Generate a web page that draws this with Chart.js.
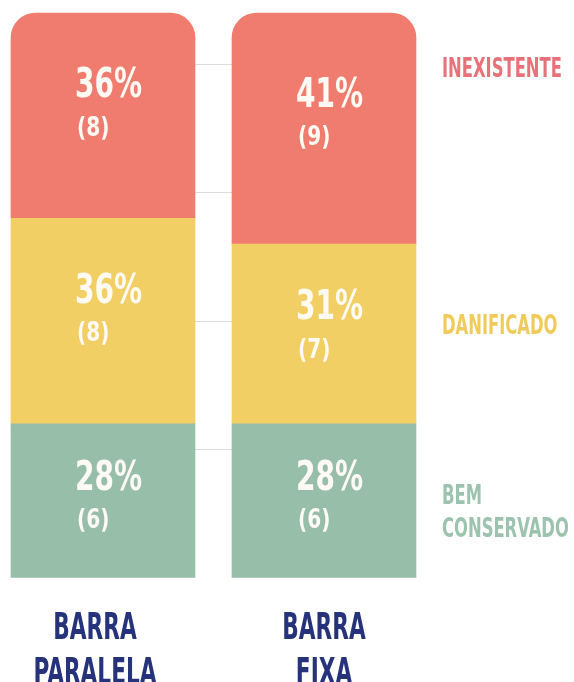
<!DOCTYPE html>
<html>
<head>
<meta charset="utf-8">
<script src="https://cdn.jsdelivr.net/npm/chart.js@4.4.1/dist/chart.umd.min.js"></script>
<style>
	html, body { margin: 0; padding: 0; background: #fff; overflow: hidden; }
	#wrap { position: relative; width: 574px; height: 682px; }
</style>
</head>
<body>
<div id="wrap"><canvas id="chart"></canvas></div>
<script>
// Categories on the x axis (two-line labels)
const categories = [["BARRA", "PARALELA"], ["BARRA", "FIXA"]];

// Counts per condition (bottom to top of the stack)
const bemConservado = [6, 6];
const danificado = [8, 7];
const inexistente = [8, 9];

// Percentages printed on each segment
const bemConservadoPct = [28, 28];
const danificadoPct = [36, 31];
const inexistentePct = [36, 41];

// Value axis
const yMax = 22;
const yStep = 5;

const FONT = '"DejaVu Sans Condensed", "DejaVu Sans", sans-serif';

// Draw text squeezed horizontally (the original uses a very condensed face)
function squeezeText(ctx, text, x, y, sx) {
	ctx.save();
	ctx.translate(x, y);
	ctx.scale(sx, 1);
	ctx.fillText(text, 0, 0);
	ctx.restore();
}

/**
 * Labels inside the bars, category labels under them and the
 * coloured series names on the right side
 */
const chartLabels = {
	id: "chartLabels",
	afterDatasetsDraw(chart) {
		const ctx = chart.ctx;
		const area = chart.chartArea;
		const xScale = chart.scales.x;
		const sideY = [497, 327, 70]; // by dataset index
		ctx.save();
		ctx.textBaseline = "middle";

		chart.data.datasets.forEach((ds, i) => {
			ctx.textAlign = "left";
			ctx.fillStyle = "#fffaf3";
			chart.getDatasetMeta(i).data.forEach((bar, j) => {
				const h = bar.base - bar.y;
				const cy = bar.y + h * 0.36;
				ctx.font = "bold 40px " + FONT;
				squeezeText(ctx, ds.pct[j] + "%", bar.x - 28, cy, 0.78);
				ctx.font = "bold 26px " + FONT;
				squeezeText(ctx, "(" + ds.data[j] + ")", bar.x - 26, cy + 42, 0.86);
			});

			// series name on the right
			ctx.fillStyle = ds.textColor;
			ctx.font = "bold 26px " + FONT;
			ds.label.split(" ").forEach((line, k) => {
				squeezeText(ctx, line, area.right + 118, sideY[i] + k * 33, 0.7);
			});
		});

		// category labels
		ctx.textAlign = "center";
		ctx.fillStyle = "#26337A";
		ctx.font = "bold 37px " + FONT;
		chart.data.labels.forEach((lines, i) => {
			const x = xScale.getPixelForTick(i) - (i === 0 ? 8 : 0);
			lines.forEach((line, k) => {
				squeezeText(ctx, line, x, area.bottom + 51 + k * 45, 0.65);
			});
		});
		ctx.restore();
	},
};

const chartData = {
	labels: categories,
	datasets: [
		{
			label: "BEM CONSERVADO",
			data: bemConservado,
			pct: bemConservadoPct,
			backgroundColor: "#97BEA8",
			textColor: "#9CC3AE",
		},
		{
			label: "DANIFICADO",
			data: danificado,
			pct: danificadoPct,
			backgroundColor: "#F2CF64",
			textColor: "#F0CB5C",
		},
		{
			label: "INEXISTENTE",
			data: inexistente,
			pct: inexistentePct,
			backgroundColor: "#F07C70",
			textColor: "#E9717A",
			borderRadius: { topLeft: 25, topRight: 25, bottomLeft: 0, bottomRight: 0 },
			borderSkipped: false,
		},
	],
};

const config = {
	type: "bar",
	data: chartData,
	options: {
		responsive: true,
		maintainAspectRatio: false,
		animation: false,
		datasets: {
			bar: {
				barThickness: 184,
				clip: false,
				borderWidth: 0,
			},
		},
		layout: {
			padding: { left: 103, right: 250, top: 13, bottom: 96 },
		},
		plugins: {
			legend: { display: false },
			tooltip: { enabled: false },
		},
		scales: {
			x: {
				stacked: true,
				offset: false,
				grid: { display: false },
				border: { display: false },
				ticks: { display: false },
				afterFit(scale) {
					scale.paddingLeft = 0;
					scale.paddingRight = 0;
				},
			},
			y: {
				stacked: true,
				min: 0,
				max: yMax,
				border: { display: false },
				grid: {
					drawTicks: false,
					// only the inner 5-step lines, no line at 0 or at the top
					color: (c) =>
						c.tick && c.tick.value > 0 && c.tick.value % yStep === 0 ? "#dcdcdc" : "rgba(0,0,0,0)",
					lineWidth: 1,
				},
				ticks: { display: false, stepSize: yStep },
			},
		},
	},
	plugins: [chartLabels],
};

new Chart(document.getElementById("chart"), config);
</script>
</body>
</html>
